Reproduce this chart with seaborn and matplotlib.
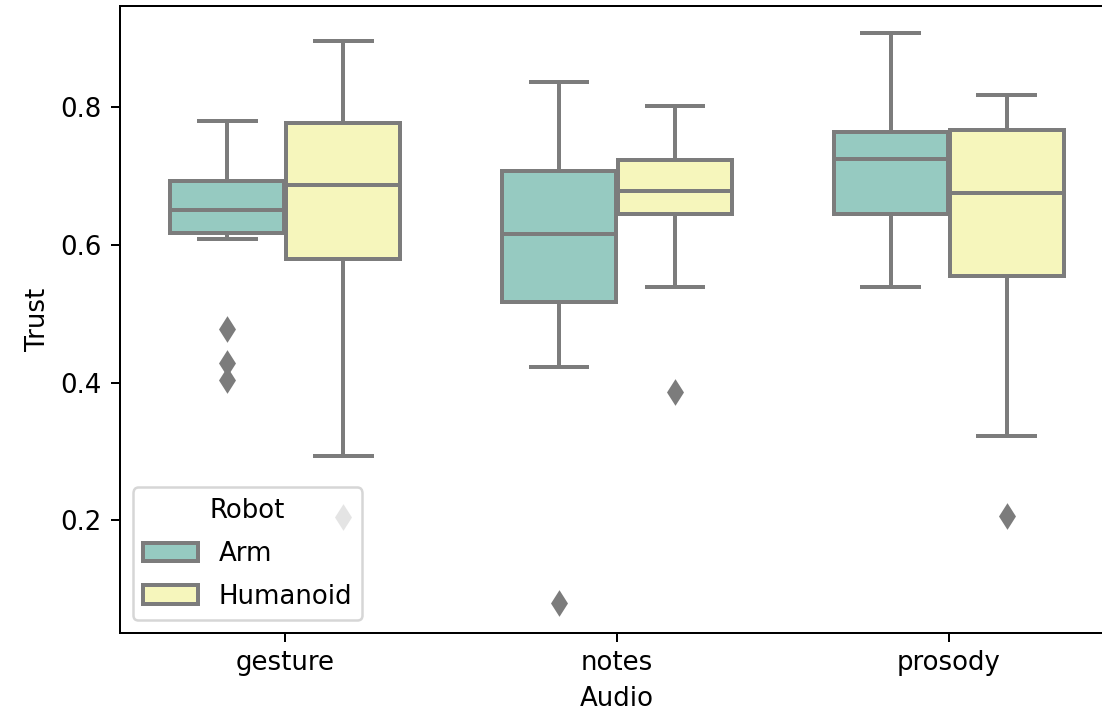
import numpy as np
import pandas as pd
import matplotlib
matplotlib.use("Agg")
import matplotlib.pyplot as plt
import seaborn as sns

# ---- data ----
audio_levels = ["gesture", "notes", "prosody"]
robot_levels = ["Arm", "Humanoid"]

gesture_arm = [0.404, 0.428, 0.478, 0.609, 0.617, 0.625, 0.635, 0.645, 0.651,
               0.660, 0.672, 0.684, 0.692, 0.705, 0.725, 0.750, 0.779]
gesture_humanoid = [0.205, 0.294, 0.579, 0.640, 0.686, 0.730, 0.777, 0.840, 0.895]
notes_arm = [0.080, 0.423, 0.517, 0.570, 0.616, 0.660, 0.707, 0.770, 0.836]
notes_humanoid = [0.386, 0.538, 0.645, 0.660, 0.678, 0.700, 0.723, 0.760, 0.802]
prosody_arm = [0.539, 0.644, 0.725, 0.763, 0.907]
prosody_humanoid = [0.207, 0.322, 0.555, 0.610, 0.675, 0.720, 0.766, 0.790, 0.817]

groups = {
    ("gesture", "Arm"): gesture_arm,
    ("gesture", "Humanoid"): gesture_humanoid,
    ("notes", "Arm"): notes_arm,
    ("notes", "Humanoid"): notes_humanoid,
    ("prosody", "Arm"): prosody_arm,
    ("prosody", "Humanoid"): prosody_humanoid,
}
rows = []
for (a, r), vals in groups.items():
    for v in vals:
        rows.append({"Audio": a, "Robot": r, "Trust": v})
df = pd.DataFrame(rows)

# ---- figure ----
plt.rcParams["font.size"] = 10.4
DPI = 180
fig = plt.figure(figsize=(1102 / DPI, 711 / DPI), dpi=DPI)
W, H = 1102, 711
left, right, top, bottom = 119.5, 1114.5, 6, 633
ax = fig.add_axes([left / W, (H - bottom) / H, (right - left) / W, (bottom - top) / H])

LINE = "#7c7c7c"
sns.boxplot(data=df, x="Audio", y="Trust", hue="Robot",
            order=audio_levels, hue_order=robot_levels,
            palette="Set3", width=0.7, gap=0.02, linewidth=1.6,
            linecolor=LINE,
            flierprops=dict(marker="d", markersize=6.5,
                            markerfacecolor=LINE, markeredgecolor=LINE),
            ax=ax)

ax.set_ylim(0.0366, 0.9464)
ax.set_yticks([0.2, 0.4, 0.6, 0.8])
ax.set_xlabel("Audio")
ax.set_ylabel("Trust")
ax.legend(title="Robot", loc="lower left", labelspacing=0.65,
          handlelength=2.1)

fig.savefig("out.png", dpi=DPI)
